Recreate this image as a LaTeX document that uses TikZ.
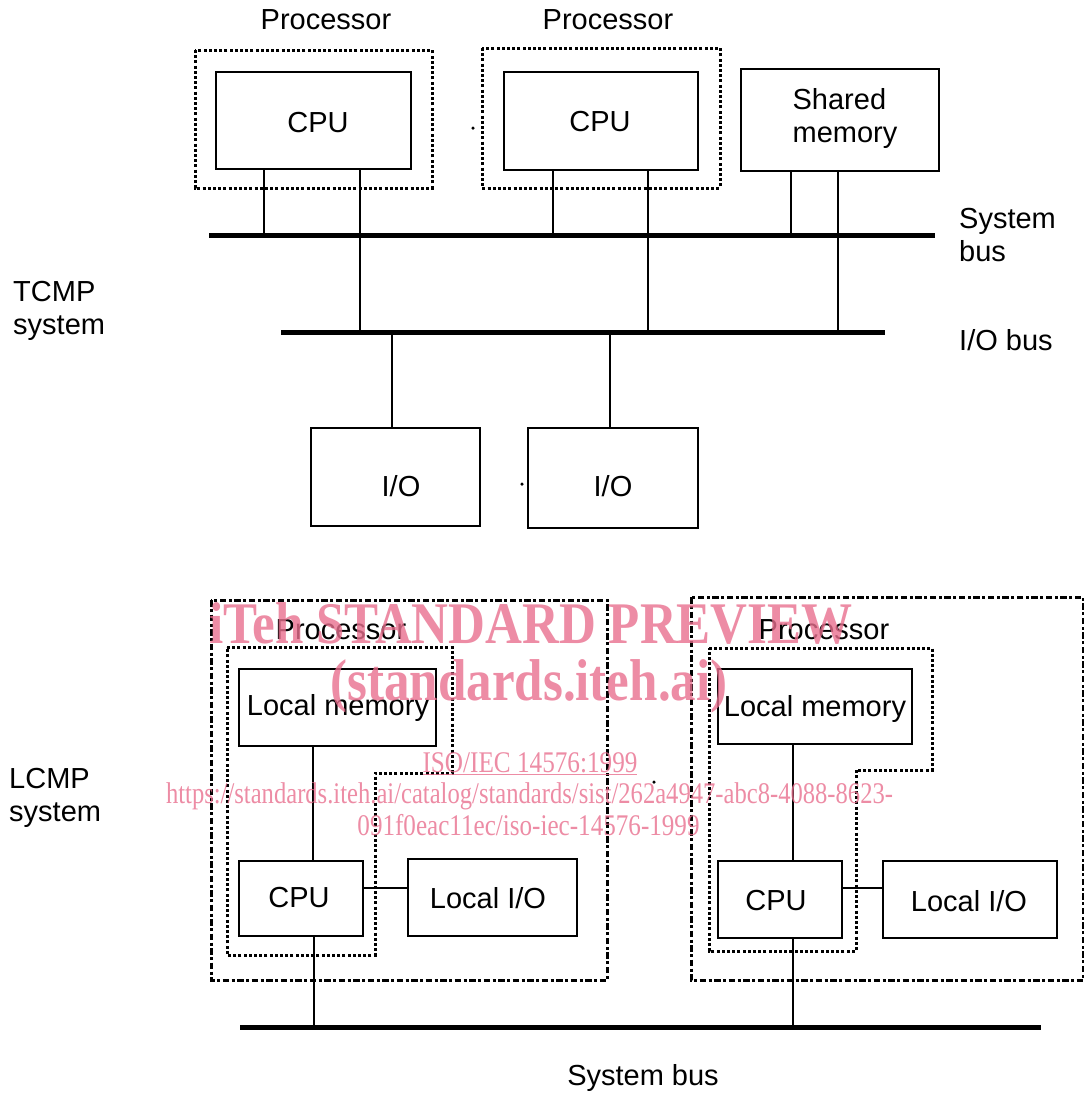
\documentclass[tikz,border=0pt]{standalone}
\usepackage{fontspec}
\setmainfont{Liberation Sans}
\newfontfamily\wmfont{Liberation Serif}
\definecolor{wmpink}{RGB}{232,111,142}
\begin{document}
\begin{tikzpicture}[x=1pt,y=-1pt,
  box/.style={draw,line width=2.2pt,inner sep=0pt},
  lbl/.style={inner sep=0pt,font=\fontsize{29}{33}\selectfont,align=left},
  conn/.style={line width=2pt},
  bus/.style={line width=5pt},
  dotbox/.style={line width=3pt,dash pattern=on 3pt off 2.2pt},
  dashdotbox/.style={line width=3pt,dash pattern=on 6.5pt off 2.5pt on 3pt off 2.5pt},
  wmk/.style={inner sep=0pt,text=wmpink,opacity=0.8,font=\wmfont},
  dotmark/.style={circle,fill,inner sep=0pt,minimum size=3.5pt}
]
\useasboundingbox (0,0) rectangle (1084,1096);

% ---------- TCMP ----------
\node[lbl,anchor=center] (procA) at (326,20) {Processor};
\node[lbl,anchor=center] (procB) at (608,20) {Processor};

\draw[dotbox] (195,50) rectangle (432,188);
\draw[dotbox] (482,48) rectangle (720,188);

\node[box,minimum width=195pt,minimum height=97pt] (cpuA) at (313.5,120.5) {};
\node[box,minimum width=194pt,minimum height=98pt] (cpuB) at (601,121) {};
\node[box,minimum width=198pt,minimum height=102pt] (mem) at (840,120) {};
\node[lbl] (cpuAt) at (318,123) {CPU};
\node[lbl] (cpuBt) at (600,122) {CPU};
\node[lbl] (memt) at (845,118) {Shared\\memory};

\node[box,minimum width=169pt,minimum height=98pt] (ioA) at (395.5,477) {};
\node[box,minimum width=170pt,minimum height=100pt] (ioB) at (613,478) {};
\node[lbl] (ioAt) at (401,486) {I/O};
\node[lbl] (ioBt) at (613,486) {I/O};

\node[dotmark] (d1) at (473,128) {};
\node[dotmark] (d2) at (522,484) {};

% buses
\coordinate (sbL) at (209,235); \coordinate (sbR) at (935,235);
\coordinate (ibL) at (281,332); \coordinate (ibR) at (885,332);
\draw[bus] (sbL) -- (sbR);
\draw[bus] (ibL) -- (ibR);

% bus taps
\coordinate (a1) at (264,235); \coordinate (a2) at (360,332);
\coordinate (b1) at (553,235); \coordinate (b2) at (648,332);
\coordinate (m1) at (791,235); \coordinate (m2) at (838,332);
\coordinate (i1) at (392,332); \coordinate (i2) at (610,332);
\draw[conn] (cpuA.south -| a1) -- (a1);
\draw[conn] (cpuA.south -| a2) -- (a2);
\draw[conn] (cpuB.south -| b1) -- (b1);
\draw[conn] (cpuB.south -| b2) -- (b2);
\draw[conn] (mem.south -| m1) -- (m1);
\draw[conn] (mem.south -| m2) -- (m2);
\draw[conn] (i1) -- (ioA.north -| i1);
\draw[conn] (i2) -- (ioB.north -| i2);

\node[lbl,anchor=west] (sblbl) at (959,235) {System\\bus};
\node[lbl,anchor=west] (iblbl) at (959,340) {I/O bus};
\node[lbl,anchor=west] (tcmp) at (13,311) {TCMP\\system};

% ---------- LCMP ----------
\draw[dashdotbox] (211,600) rectangle (607,980);
\draw[dashdotbox] (691,597) rectangle (1083,980);

\draw[dotbox] (227,647) -- (452,647) -- (452,773) -- (375,773) -- (375,955) -- (227,955) -- cycle;
\draw[dotbox] (709,648) -- (932,648) -- (932,770) -- (856,770) -- (856,951) -- (709,951) -- cycle;

\node[lbl,anchor=center] (procC) at (341,630) {Processor};
\node[lbl,anchor=center] (procD) at (824,630) {Processor};

\node[box,minimum width=197pt,minimum height=77pt] (lmA) at (337.5,707.5) {};
\node[box,minimum width=124pt,minimum height=75pt] (cpuC) at (301,898.5) {};
\node[box,minimum width=169pt,minimum height=77pt] (lioA) at (492.5,897.5) {};
\node[lbl] (lmAt) at (338,708) {Local memory};
\node[lbl] (cpuCt) at (299,898) {CPU};
\node[lbl] (lioAt) at (488,898) {Local I/O};

\node[box,minimum width=194pt,minimum height=75pt] (lmB) at (815,706.5) {};
\node[box,minimum width=124pt,minimum height=77pt] (cpuD) at (780,899.5) {};
\node[box,minimum width=174pt,minimum height=77pt] (lioB) at (970,899.5) {};
\node[lbl] (lmBt) at (815,709) {Local memory};
\node[lbl] (cpuDt) at (776,901) {CPU};
\node[lbl] (lioBt) at (969,901) {Local I/O};

\coordinate (la) at (313,0); \coordinate (lb) at (793,0);
\coordinate (ha) at (0,888);
\draw[conn] (lmA.south -| la) -- (cpuC.north -| la);
\draw[conn] (lmB.south -| lb) -- (cpuD.north -| lb);
\draw[conn] (cpuC.east |- ha) -- (lioA.west |- ha);
\draw[conn] (cpuD.east |- ha) -- (lioB.west |- ha);

\coordinate (bbL) at (240,1027); \coordinate (bbR) at (1041,1027);
\draw[bus] (bbL) -- (bbR);
\coordinate (c1) at (314,1027); \coordinate (c2) at (793,1027);
\draw[conn] (cpuC.south -| c1) -- (c1);
\draw[conn] (cpuD.south -| c2) -- (c2);

\node[lbl,anchor=center] (sbb) at (643,1078) {System bus};
\node[lbl,anchor=west] (lcmp) at (9,798) {LCMP\\system};
\node[dotmark] (d3) at (654,782) {};

% ---------- watermark ----------
\node[wmk,anchor=base,font=\wmfont\bfseries\fontsize{59}{60}\selectfont] (w1) at (531,643) {\scalebox{0.865}[1]{iTeh STANDARD PREVIEW}};
\node[wmk,anchor=base,font=\wmfont\bfseries\fontsize{59}{60}\selectfont] (w2) at (529,700) {\scalebox{0.865}[1]{(standards.iteh.ai)}};
\node[wmk,anchor=base,font=\wmfont\fontsize{30}{31}\selectfont] (w3) at (530,772) {\scalebox{0.84}[1]{\underline{ISO/IEC 14576:1999}}};
\node[wmk,anchor=base,font=\wmfont\fontsize{30}{31}\selectfont] (w4) at (529.5,803) {\scalebox{0.82}[1]{https://standards.iteh.ai/catalog/standards/sist/262a4947-abc8-4088-8623-}};
\node[wmk,anchor=base,font=\wmfont\fontsize{30}{31}\selectfont] (w5) at (528.5,835) {\scalebox{0.837}[1]{091f0eac11ec/iso-iec-14576-1999}};
\end{tikzpicture}
\end{document}
